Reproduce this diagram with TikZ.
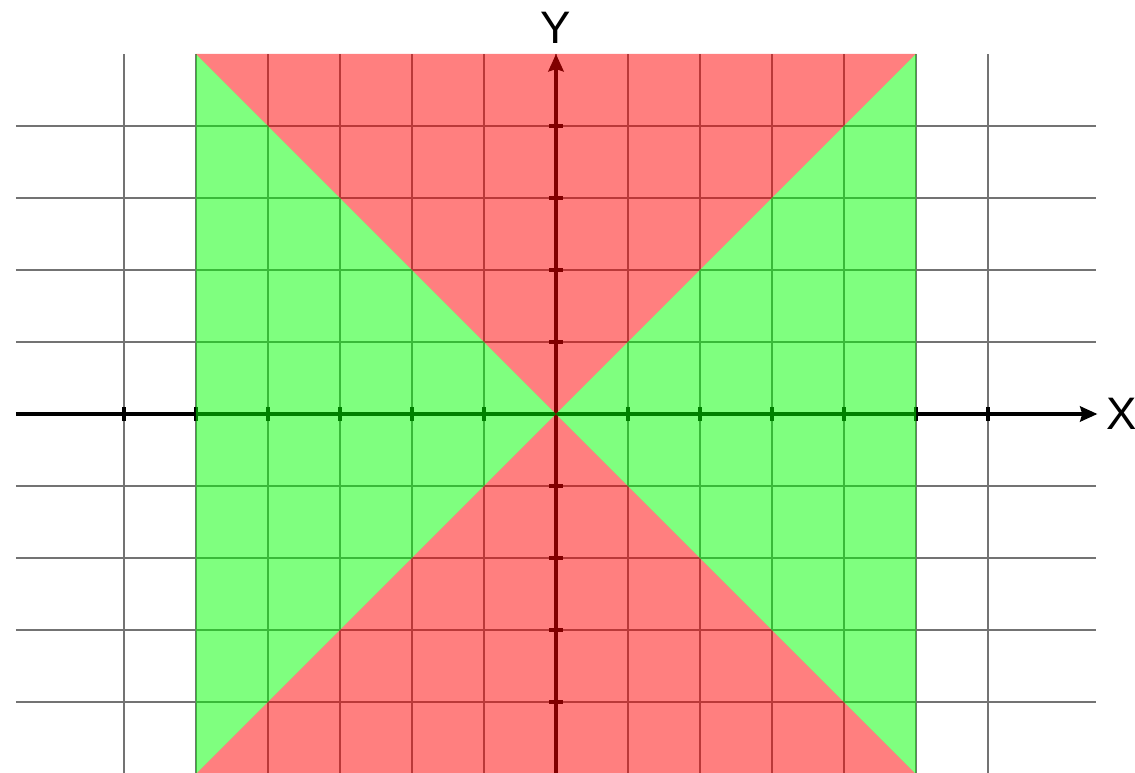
\documentclass[tikz,border=0pt]{standalone}
\usepackage{fontspec}
\setmainfont{Liberation Sans}
\usetikzlibrary{arrows.meta}
\begin{document}
\begin{tikzpicture}[x=1cm,y=1cm,
  gridline/.style={line width=0.6pt, draw=black!55},
  axisline/.style={line width=1.5pt, draw=black, -{Stealth[length=2.4mm,width=2.1mm,inset=0.3mm]}},
  tickmark/.style={line width=1.5pt, draw=black},
  axislabel/.style={font=\fontsize{18}{20}\selectfont, text=black, inner sep=0pt},
  redpart/.style={fill=red, fill opacity=0.5, draw=none},
  greenpart/.style={fill=green, fill opacity=0.5, draw=none}]
\useasboundingbox (-7.7222,-4.9861) rectangle (8.0417,5.75);
% grid
\foreach \x in {-6,...,6} \draw[gridline] (\x,-5) -- (\x,5);
\foreach \y in {-4,...,4} \draw[gridline] (-7.5,\y) -- (7.5,\y);
% axes
\coordinate (xs) at (-7.5,0);
\coordinate (xe) at (7.52,0);
\coordinate (ys) at (0,-5);
\coordinate (ye) at (0,5);
\draw[axisline] (xs) -- (xe);
\draw[axisline] (ys) -- (ye);
\foreach \x in {-6,...,-1,1,2,...,6} \draw[tickmark] (\x,-0.1) -- (\x,0.1);
\foreach \y in {-4,...,-1,1,2,...,4} \draw[tickmark] (-0.1,\y) -- (0.1,\y);
% regions
\coordinate (O) at (0,0);
\coordinate (tl) at (-5,5);
\coordinate (tr) at (5,5);
\coordinate (bl) at (-5,-5);
\coordinate (br) at (5,-5);
\fill[redpart] (O) -- (tl) -- (tr) -- cycle;
\fill[redpart] (O) -- (bl) -- (br) -- cycle;
\fill[greenpart] (O) -- (tl) -- (bl) -- cycle;
\fill[greenpart] (O) -- (tr) -- (br) -- cycle;
% labels
\node[axislabel, anchor=base] (ylab) at (0,5.15) {Y};
\node[axislabel, anchor=west] (xlab) at (7.64,0) {X};
\end{tikzpicture}
\end{document}
